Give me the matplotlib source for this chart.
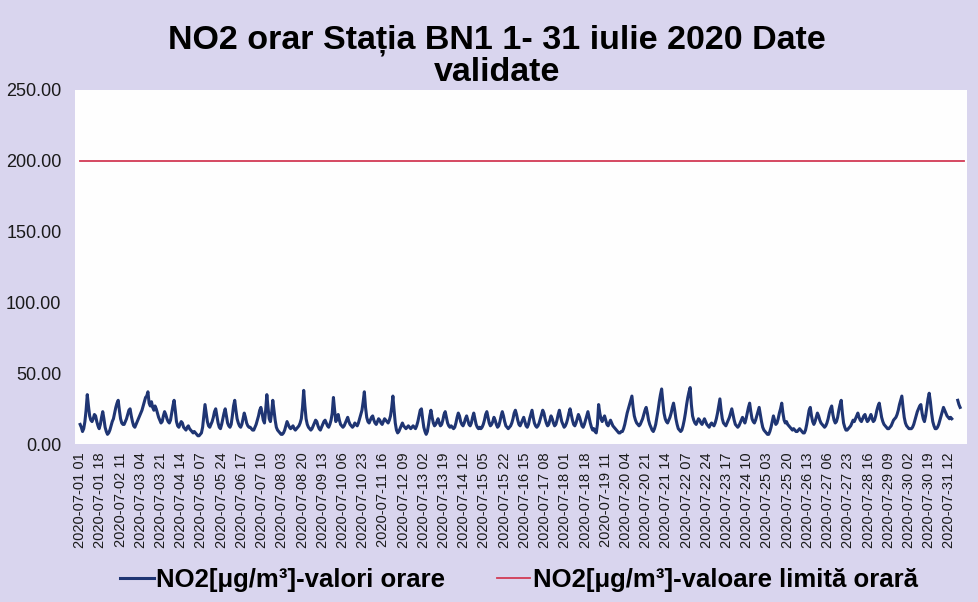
import matplotlib
matplotlib.use("Agg")
import matplotlib.pyplot as plt
import numpy as np

nan = np.nan

# hourly NO2 values, one row per day (hours 01..24)
day01 = [14, 12, 9, 11, 16, 24, 35, 27, 20, 17, 16, 18, 21, 20, 16, 13, 11, 14, 19, 23, 18, 12, 9, 7]
day02 = [8, 10, 13, 16, 18, 22, 26, 29, 31, 24, 18, 15, 14, 14, 16, 18, 21, 24, 25, 20, 16, 13, 12, 14]
day03 = [16, 18, 20, 22, 24, 27, 30, 33, 34, 37, 29, 27, 30, 26, 24, 27, 25, 22, 19, 17, 15, 16, 20, 23]
day04 = [21, 18, 16, 15, 17, 22, 27, 31, 24, 16, 13, 12, 14, 16, 15, 12, 11, 10, 12, 13, 11, 10, 9, 8]
day05 = [9, 8, 7, 6, 6, 7, 8, 12, 20, 28, 22, 16, 13, 12, 14, 16, 19, 23, 25, 20, 15, 12, 11, 14]
day06 = [18, 22, 25, 20, 15, 13, 12, 14, 20, 27, 31, 24, 18, 15, 13, 12, 14, 18, 22, 19, 15, 13, 12, 12]
day07 = [11, 10, 10, 12, 14, 17, 20, 24, 26, 22, 17, 15, 24, 35, 26, 18, 16, 22, 31, 24, 17, 12, 10, 9]
day08 = [8, 7, 7, 8, 10, 13, 16, 14, 12, 11, 12, 13, 11, 10, 11, 12, 13, 15, 18, 26, 38, 27, 18, 14]
day09 = [12, 11, 10, 11, 13, 15, 17, 16, 13, 11, 10, 12, 14, 16, 17, 15, 13, 12, 14, 17, 22, 33, 24, 16]
day10 = [18, 21, 17, 14, 13, 12, 13, 15, 17, 19, 16, 14, 13, 12, 13, 15, 14, 13, 15, 18, 21, 24, 30, 37]
day11 = [26, 19, 16, 15, 17, 19, 20, 17, 15, 14, 16, 18, 17, 15, 14, 16, 18, 17, 16, 15, 17, 20, 26, 34]
day12 = [24, 15, 10, 8, 9, 11, 13, 15, 13, 12, 11, 12, 13, 12, 11, 12, 13, 12, 11, 13, 16, 20, 24, 25]
day13 = [18, 12, 9, 7, 9, 14, 20, 24, 19, 15, 13, 14, 16, 18, 15, 13, 14, 17, 21, 23, 19, 15, 13, 12]
day14 = [13, 12, 11, 12, 15, 19, 22, 20, 16, 14, 13, 15, 18, 20, 17, 14, 13, 15, 19, 22, 18, 14, 12, 11]
day15 = [12, 11, 12, 14, 17, 21, 23, 19, 15, 13, 14, 16, 19, 17, 14, 12, 13, 16, 20, 23, 20, 16, 13, 12]
day16 = [11, 12, 13, 15, 18, 22, 24, 21, 17, 14, 13, 15, 17, 19, 16, 13, 12, 14, 18, 21, 24, 19, 15, 13]
day17 = [12, 13, 15, 18, 21, 24, 22, 18, 15, 13, 14, 17, 20, 18, 15, 13, 14, 17, 21, 24, 20, 16, 14, 12]
day18 = [13, 15, 18, 22, 25, 21, 17, 14, 13, 15, 18, 21, 19, 16, 13, 12, 14, 17, 20, 23, 19, 15, 12, 10]
day19 = [11, 9, 8, 14, 28, 22, 18, 16, 18, 20, 17, 14, 13, 15, 17, 15, 13, 12, 11, 10, 9, 8, 8, 9]
day20 = [9, 11, 14, 18, 22, 25, 28, 31, 34, 26, 20, 17, 15, 14, 13, 14, 16, 18, 21, 24, 26, 22, 17, 14]
day21 = [12, 10, 9, 11, 14, 19, 24, 30, 35, 39, 30, 22, 18, 16, 15, 17, 19, 22, 26, 29, 24, 18, 14, 11]
day22 = [10, 9, 10, 13, 17, 22, 28, 33, 37, 40, 28, 20, 17, 15, 14, 16, 18, 17, 15, 14, 16, 18, 16, 14]
day23 = [13, 12, 14, 15, 14, 13, 15, 18, 22, 27, 32, 24, 18, 15, 14, 13, 15, 17, 19, 22, 25, 21, 17, 14]
day24 = [13, 12, 13, 15, 17, 19, 17, 15, 18, 22, 26, 29, 23, 18, 16, 15, 17, 20, 23, 26, 21, 16, 12, 10]
day25 = [9, 8, 7, 7, 9, 12, 16, 20, 17, 14, 15, 18, 22, 25, 29, 22, 17, 15, 16, 14, 13, 12, 11, 10]
day26 = [11, 10, 9, 9, 10, 11, 10, 9, 8, 8, 10, 14, 19, 24, 26, 20, 16, 14, 16, 19, 22, 20, 17, 15]
day27 = [14, 13, 12, 13, 15, 18, 22, 25, 27, 21, 17, 15, 16, 19, 24, 28, 31, 22, 15, 12, 10, 10, 11, 12]
day28 = [13, 15, 17, 16, 18, 20, 22, 19, 17, 16, 18, 20, 21, 18, 16, 17, 19, 21, 18, 16, 17, 20, 24, 27]
day29 = [29, 24, 19, 16, 14, 13, 12, 11, 11, 12, 13, 15, 17, 18, 19, 21, 24, 28, 31, 34, 26, 19, 15, 13]
day30 = [12, 11, 11, 11, 12, 14, 17, 20, 23, 25, 27, 28, 22, 18, 16, 20, 26, 32, 36, 30, 22, 16, 13, 11]
day31 = [11, 12, 14, 17, 20, 23, 26, 24, 22, 20, 19, 18, 19, 18, nan, nan, nan, nan, 31, 28, 26, nan, nan, nan]

days = [day01, day02, day03, day04, day05, day06, day07, day08, day09, day10,
        day11, day12, day13, day14, day15, day16, day17, day18, day19, day20,
        day21, day22, day23, day24, day25, day26, day27, day28, day29, day30, day31]
no2 = np.array([v for d in days for v in d], dtype=float)

limit_value = 200.0

tick_labels = [
    "2020-07-01 01", "2020-07-01 18", "2020-07-02 11", "2020-07-03 04", "2020-07-03 21",
    "2020-07-04 14", "2020-07-05 07", "2020-07-05 24", "2020-07-06 17", "2020-07-07 10",
    "2020-07-08 03", "2020-07-08 20", "2020-07-09 13", "2020-07-10 06", "2020-07-10 23",
    "2020-07-11 16", "2020-07-12 09", "2020-07-13 02", "2020-07-13 19", "2020-07-14 12",
    "2020-07-15 05", "2020-07-15 22", "2020-07-16 15", "2020-07-17 08", "2020-07-18 01",
    "2020-07-18 18", "2020-07-19 11", "2020-07-20 04", "2020-07-20 21", "2020-07-21 14",
    "2020-07-22 07", "2020-07-22 24", "2020-07-23 17", "2020-07-24 10", "2020-07-25 03",
    "2020-07-25 20", "2020-07-26 13", "2020-07-27 06", "2020-07-27 23", "2020-07-28 16",
    "2020-07-29 09", "2020-07-30 02", "2020-07-30 19", "2020-07-31 12",
]
tick_step = 17

plt.rcParams['font.family'] = ['Liberation Sans', 'DejaVu Sans']

bg = '#d9d5ee'
fig = plt.figure(figsize=(9.79, 6.02), dpi=100, facecolor=bg)
ax = fig.add_axes([0.077, 0.262, 0.911, 0.589])
ax.set_facecolor('#fefefe')

x = np.arange(len(no2))
ax.plot(x, no2, color='#1f3573', lw=2.2, label='NO2[μg/m³]-valori orare')
ax.plot(x, np.full(len(no2), limit_value), color='#d23a55', lw=1.3,
        label='NO2[μg/m³]-valoare limită orară')

ax.set_xlim(-4, 746)
ax.set_ylim(0, 250)
ax.set_yticks(np.arange(0, 251, 50))
ax.set_yticklabels(['%.2f' % v for v in np.arange(0, 251, 50)], fontsize=13, color='#1a1a1a')
ax.set_xticks(np.arange(0, len(no2), tick_step)[:len(tick_labels)])
ax.set_xticklabels(tick_labels, rotation=90, fontsize=10.5, color='#1a1a1a')
ax.tick_params(axis='both', length=0)
ax.tick_params(axis='y', pad=10)
ax.tick_params(axis='x', pad=6)
for s in ax.spines.values():
    s.set_visible(False)

fig.text(0.508, 0.96, 'NO2 orar Stația BN1 1- 31 iulie 2020 Date\nvalidate',
         ha='center', va='top', fontsize=24.5, fontweight='bold', linespacing=1.05)

leg = fig.legend(loc='center', bbox_to_anchor=(0.53, 0.036), ncol=2, frameon=False,
                 prop={'size': 18.5, 'weight': 'bold'}, handlelength=1.3,
                 handletextpad=0.1, columnspacing=2.0)

fig.savefig('out.png', dpi=100, facecolor=bg)
